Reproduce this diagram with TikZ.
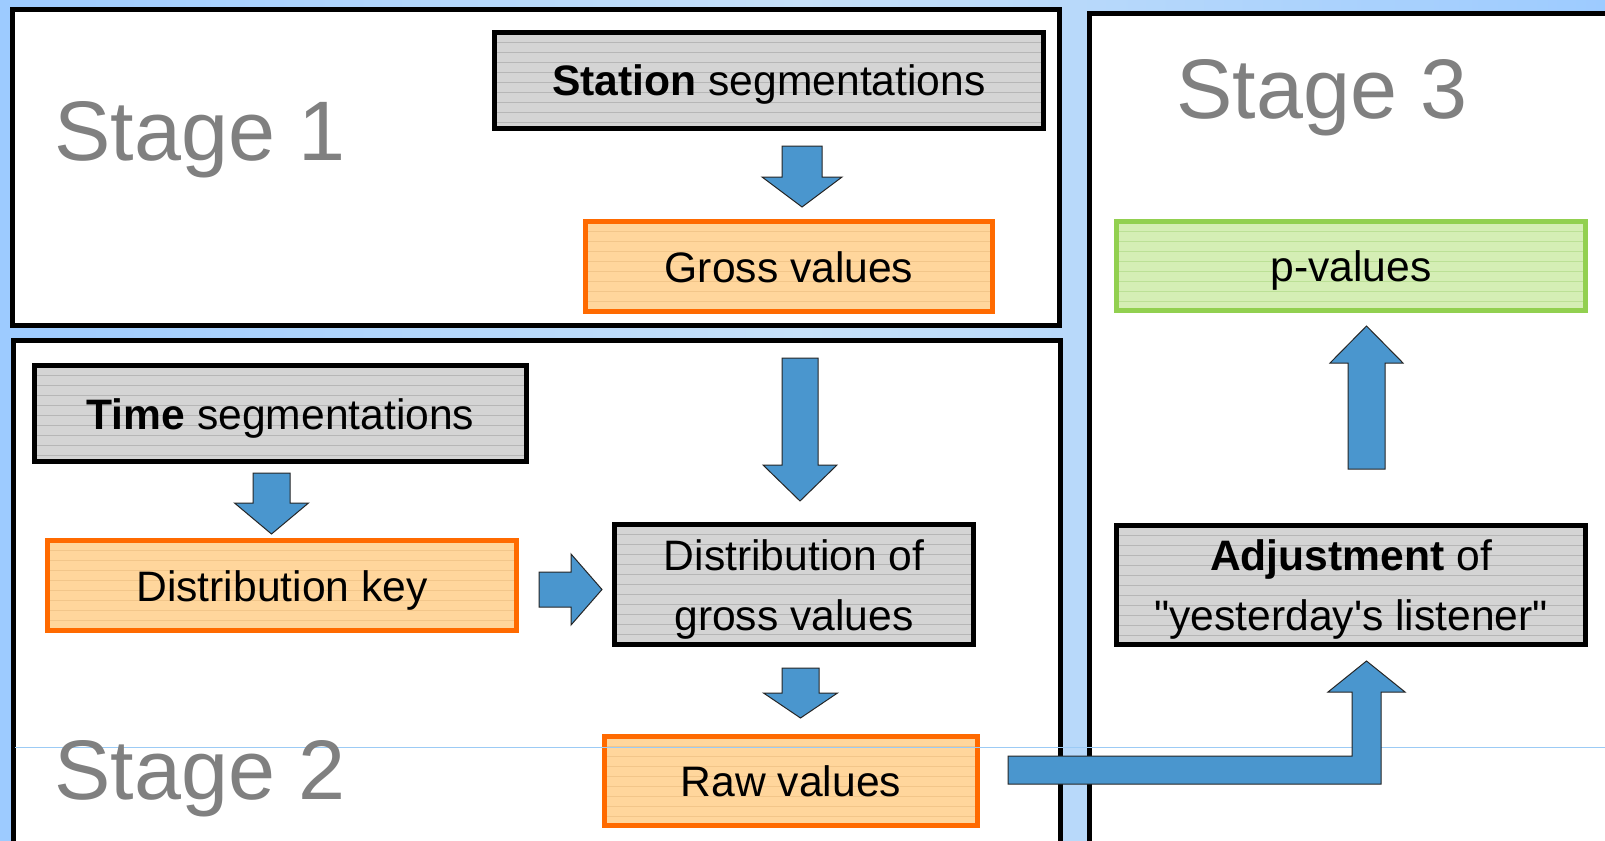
\documentclass[tikz,border=0pt]{standalone}
\usepackage{fontspec}
\setmainfont{Liberation Sans}[Ligatures=TeXOff]
\usetikzlibrary{calc}
\definecolor{bgA}{HTML}{9DCBFF}
\definecolor{bgB}{HTML}{C6E0F8}
\definecolor{arrowblue}{HTML}{4A96CE}
\definecolor{boxgray}{HTML}{D4D4D4}
\definecolor{linegray}{HTML}{B6B6B6}
\definecolor{orangeB}{HTML}{FF6A00}
\definecolor{orangeF}{HTML}{FFD69C}
\definecolor{orangeL}{HTML}{F2C68A}
\definecolor{greenB}{HTML}{92D050}
\definecolor{greenF}{HTML}{D5EEB5}
\definecolor{greenL}{HTML}{BCE096}
\definecolor{stagegray}{HTML}{808080}
\definecolor{guide}{HTML}{9CCBF5}
\tikzset{
  stagebox/.style={draw=black, line width=5pt, fill=white, line join=miter},
  hatch/.style={path picture={\foreach \k in {1,...,13}{\draw[#1, line width=0.7pt] ([yshift=-\k*10pt]path picture bounding box.north west) -- ([yshift=-\k*10pt]path picture bounding box.north east);}}},
  basebox/.style={rectangle, line width=5pt, inner sep=0pt, font=\fontsize{42.6}{60}\selectfont, align=center},
  graybox/.style={basebox, draw=black, fill=boxgray, hatch=linegray},
  orangebox/.style={basebox, draw=orangeB, fill=orangeF, hatch=orangeL},
  greenbox/.style={basebox, draw=greenB, fill=greenF, hatch=greenL},
  oneline/.style={text height=31pt, text depth=0pt},
  twoline/.style={text height=91pt, text depth=0pt},
  stagelabel/.style={anchor=base west, inner sep=0pt, text=stagegray, font=\fontsize{84.5}{100}\selectfont},
  blk/.style={fill=arrowblue, draw=black!85, line width=1pt, line join=miter},
}
% block arrow: from, to, body half width, head half width, head length
\newcommand{\blockarrow}[5]{%
  \path ($(#2)!#5!(#1)$) coordinate (bbtmp);
  \draw[blk] ($(#1)!#3!90:(#2)$) -- ($(bbtmp)!#3!90:(#2)$) -- ($(bbtmp)!#4!90:(#2)$) -- (#2)
    -- ($(bbtmp)!#4!-90:(#2)$) -- ($(bbtmp)!#3!-90:(#2)$) -- ($(#1)!#3!-90:(#2)$) -- cycle;}
\begin{document}
\begin{tikzpicture}[x=1pt, y=-1pt]
\useasboundingbox (0,0) rectangle (1605,840);
\clip (0,0) rectangle (1605,840);
\shade[left color=bgA, right color=bgA, middle color=bgB] (0,0) rectangle (1605,840);

% stage frames
\draw[stagebox] (12.5,9.5) rectangle (1059.5,325.5);
\draw[stagebox] (13.5,340.5) rectangle (1060.5,870);
\draw[stagebox] (1089.5,13.5) rectangle (1640,870);

% boxes
\node[graybox, oneline, minimum width=549pt, minimum height=96pt] (station) at (769,80.5) {\textbf{Station} segmentations};
\node[orangebox, oneline, minimum width=407pt, minimum height=90pt] (gross) at (789,266.5) {Gross values};
\node[graybox, oneline, minimum width=492pt, minimum height=96pt] (time) at (280.5,413.5) {\textbf{Time} segmentations};
\node[orangebox, oneline, minimum width=469pt, minimum height=90pt] (key) at (282,585.5) {Distribution key};
\node[graybox, twoline, minimum width=359pt, minimum height=120pt] (distgross) at (794,584.5) {Distribution of\\gross values};
\node[orangebox, oneline, minimum width=373pt, minimum height=89pt] (raw) at (791,781) {Raw values};
\node[greenbox, oneline, minimum width=469pt, minimum height=89pt] (pval) at (1351,266) {p-values};
\node[graybox, twoline, minimum width=469pt, minimum height=119pt] (adjust) at (1351,585) {\textbf{Adjustment} of\\"yesterday's listener"};

% thin guide line
\draw[guide, line width=1pt] (15,747) -- (1605,747);

% stage labels
\node[stagelabel] (s1) at (54,160) {Stage 1};
\node[stagelabel] (s2) at (54,799) {Stage 2};
\node[stagelabel] (s3) at (1176,119) {Stage 3};

% arrows
\coordinate (a1s) at (802,146);   \coordinate (a1t) at (802,207);
\coordinate (a2s) at (271.5,473); \coordinate (a2t) at (271.5,534);
\coordinate (a3s) at (539,589.5); \coordinate (a3t) at (602,589.5);
\coordinate (a4s) at (800,358);   \coordinate (a4t) at (800,501);
\coordinate (a5s) at (800.5,668); \coordinate (a5t) at (800.5,718);
\coordinate (a6s) at (1366.5,469);\coordinate (a6t) at (1366.5,326);
\blockarrow{a1s}{a1t}{20pt}{40pt}{30pt}
\blockarrow{a2s}{a2t}{18.5pt}{37pt}{31pt}
\blockarrow{a3s}{a3t}{17.5pt}{35.5pt}{31pt}
\blockarrow{a4s}{a4t}{18pt}{37pt}{36pt}
\blockarrow{a5s}{a5t}{18.5pt}{37pt}{25pt}
\blockarrow{a6s}{a6t}{18.5pt}{36.5pt}{37pt}
\coordinate (lt) at (1366.5,661);
\draw[blk] (1008,756) -- (1352,756) -- (1352,692) -- (1328,692) -- (lt) -- (1405,692) -- (1381,692) -- (1381,784) -- (1008,784) -- cycle;
\end{tikzpicture}
\end{document}
